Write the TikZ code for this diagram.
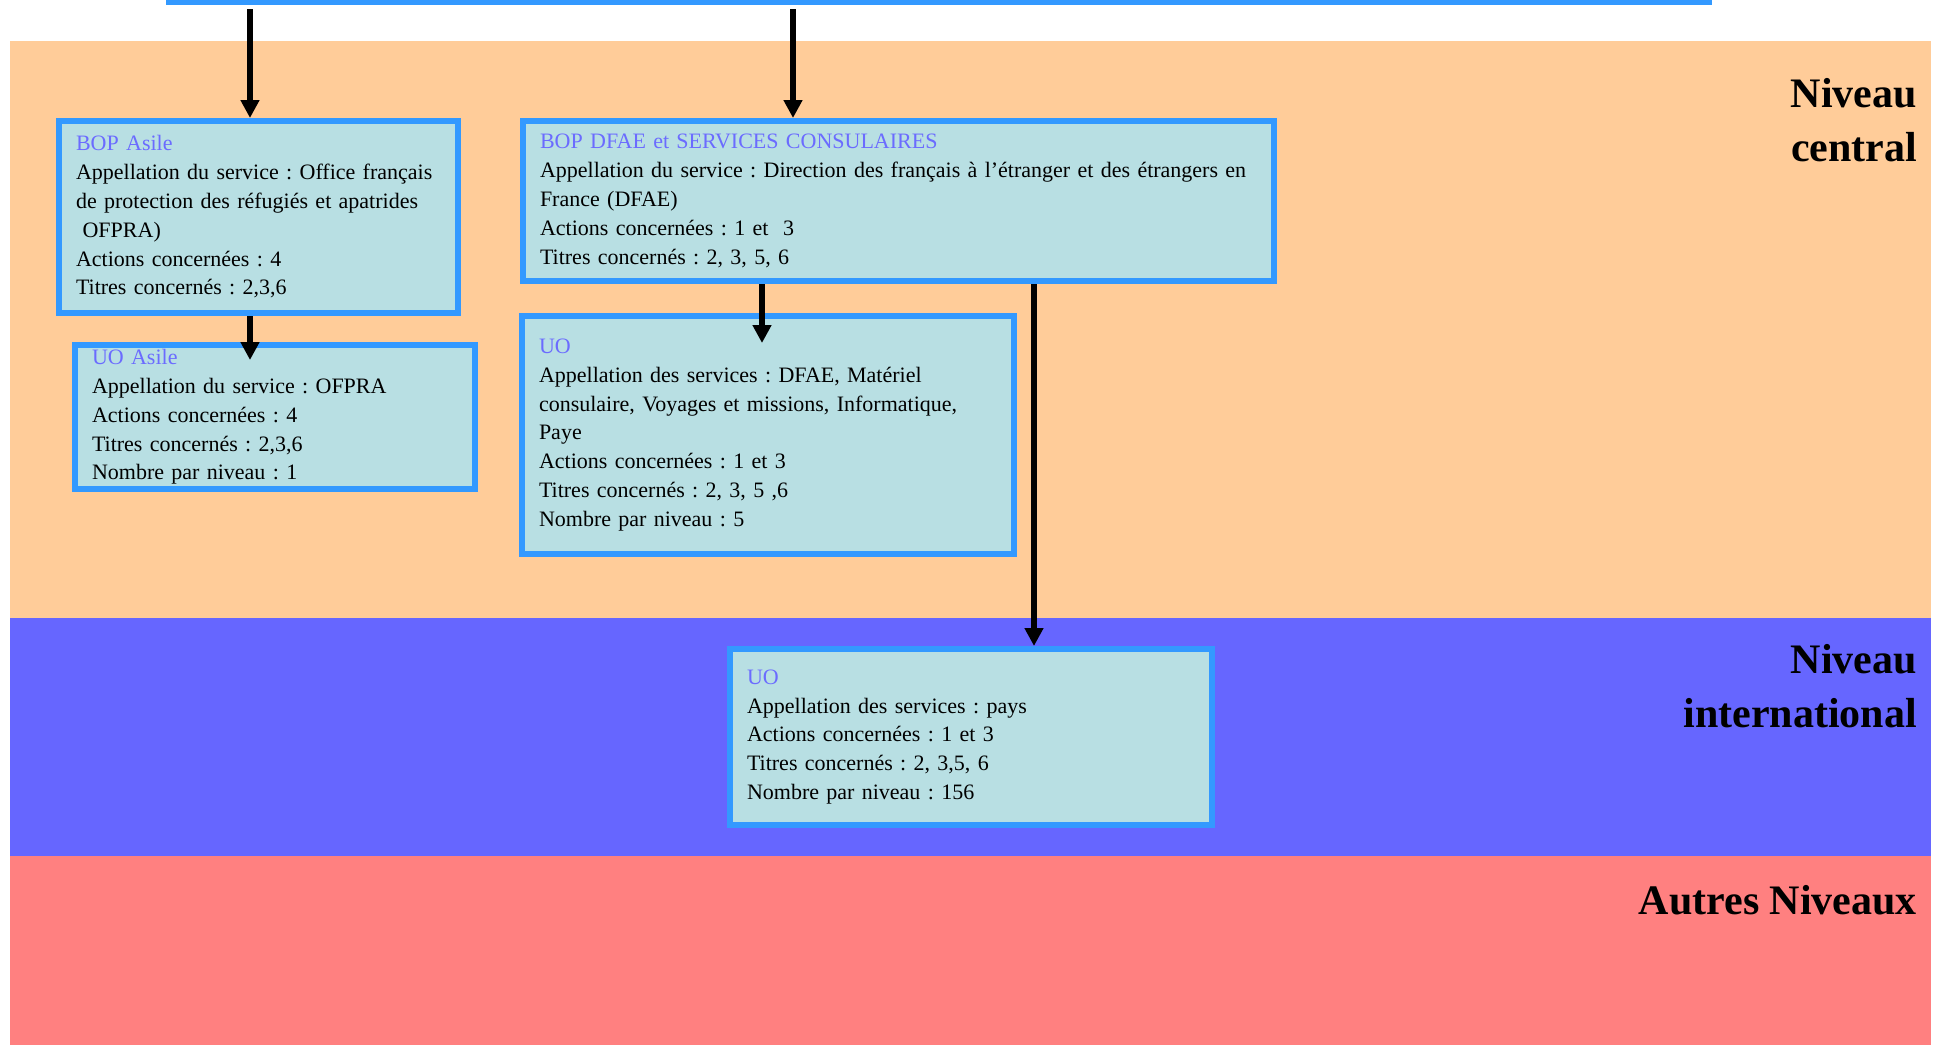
\documentclass[tikz,border=0pt]{standalone}
\usepackage{fontspec}
\setmainfont{Liberation Serif}
\usetikzlibrary{arrows.meta,positioning,calc}
\definecolor{central}{HTML}{FFCC99}
\definecolor{inter}{HTML}{6666FF}
\definecolor{autres}{HTML}{FF8080}
\definecolor{cadre}{HTML}{3399FF}
\definecolor{fond}{HTML}{B8DFE3}
\definecolor{titre}{HTML}{6B6BFF}
\tikzset{
  cell/.style={draw=cadre, line width=3pt, fill=fond, anchor=north west, align=left,
               inner xsep=8.5pt, inner ysep=2pt, font=\fontsize{11}{14.4}\selectfont},
  flow/.style={-{Triangle[length=9pt,width=9pt]}, line width=2.8pt, black},
  niveau/.style={anchor=east, align=right, font=\fontsize{21}{27}\selectfont\bfseries},
}
\newcommand{\hd}[1]{\textcolor{titre}{#1}}
\frenchspacing

\begin{document}
\begin{tikzpicture}[x=0.5pt, y=-0.5pt]
    \useasboundingbox (0,0) rectangle (1934,1045);
    % bandes
    \fill[central] (10,41) rectangle (1931,618);
    \fill[inter] (10,618) rectangle (1931,856);
    \fill[autres] (10,856) rectangle (1931,1045);
    \node[fill=cadre, minimum width=773pt, minimum height=2.5pt, inner sep=0pt] (ligne) at (939,2.5) {};

    \node[niveau] (nc) at (1924,120) {Niveau\\central};
    \node[niveau] (ni) at (1924,686) {Niveau\\international};
    \node[niveau] (na) at (1924,900) {Autres Niveaux};

    \node[cell, text width=182.5pt, minimum height=96pt] (bopasile) at (56,118)
      {\hd{BOP Asile}\\Appellation du service : Office français\\de protection des réfugiés et apatrides\\\hspace*{0.3em}OFPRA)\\Actions concernées : 4\\Titres concernés : 2,3,6};
    \node[cell, text width=183pt, minimum height=72pt] (uoasile) at (72,342)
      {\hd{UO Asile}\\Appellation du service : OFPRA\\Actions concernées : 4\\Titres concernés : 2,3,6\\Nombre par niveau : 1};
    \node[cell, text width=358.5pt, minimum height=80pt] (bopdfae) at (520,118)
      {\hd{BOP DFAE et SERVICES CONSULAIRES}\\Appellation du service : Direction des français à l’étranger et des étrangers en\\France (DFAE)\\Actions concernées : 1 et\ \ 3\\Titres concernés : 2, 3, 5, 6};
    \node[cell, text width=229pt, minimum height=119pt] (uocentral) at (519,313)
      {\hd{UO}\\Appellation des services : DFAE, Matériel\\consulaire, Voyages et missions, Informatique,\\Paye\\Actions concernées : 1 et 3\\Titres concernés : 2, 3, 5 ,6\\Nombre par niveau : 5};
    \node[cell, text width=224pt, minimum height=88pt] (uointl) at (727,646)
      {\hd{UO}\\Appellation des services : pays\\Actions concernées : 1 et 3\\Titres concernés : 2, 3,5, 6\\Nombre par niveau : 156};

    \coordinate (t1) at (250,9);
    \coordinate (t2) at (793,9);
    \coordinate (c3) at (762,0);
    \coordinate (c4) at (1034,0);
    \draw[flow] (t1) -- (t1 |- bopasile.north);
    \draw[flow] (t2) -- (t2 |- bopdfae.north);
    \draw[flow] (t1 |- bopasile.south) -- ($(t1 |- uoasile.north)+(0,18)$);
    \draw[flow] (c3 |- bopdfae.south) -- ($(c3 |- uocentral.north)+(0,30)$);
    \draw[flow] (c4 |- bopdfae.south) -- (c4 |- uointl.north);
\end{tikzpicture}
\end{document}
